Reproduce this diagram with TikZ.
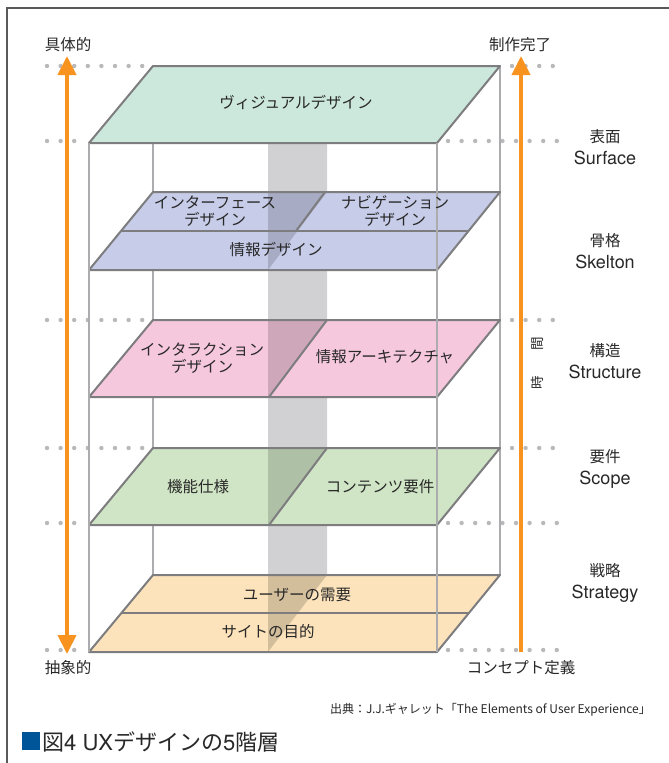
\documentclass[tikz,border=0pt]{standalone}
\usepackage{fontspec}
\setmainfont{Noto Sans CJK JP}
\newfontfamily\hvfam{TeX Gyre Heros}
\newcommand\latw[1]{{\hvfam\fontsize{18}{21}\selectfont #1}}
\usetikzlibrary{arrows.meta}
\definecolor{edgec}{RGB}{125,125,127}
\definecolor{boxc}{RGB}{172,172,175}
\definecolor{dotc}{RGB}{185,185,188}
\definecolor{colc}{RGB}{209,209,211}
\definecolor{arrc}{RGB}{247,147,30}
\definecolor{txtc}{RGB}{40,40,40}
\definecolor{framec}{RGB}{90,90,90}
\definecolor{visc}{RGB}{204,231,219}
\definecolor{skc}{RGB}{199,204,233}
\definecolor{stc}{RGB}{246,200,222}
\definecolor{scc}{RGB}{208,229,197}
\definecolor{sgc}{RGB}{252,227,187}
\definecolor{titlec}{RGB}{0,84,152}
\tikzset{
  dotline/.style={dotc, line width=4.4pt, line cap=round, dash pattern=on 0pt off 13.6pt},
  layeredge/.style={edgec, line width=2pt, line join=round},
  boxline/.style={boxc, line width=1.5pt},
  shade/.style={fill=black, fill opacity=0.16},
  lbl/.style={text=txtc, font=\fontsize{15.5}{17}\selectfont, align=center, inner sep=0pt},
  side/.style={text=txtc, font=\fontsize{15.5}{21.5}\selectfont, align=center, inner sep=0pt},
  orarrow/.style={arrc, line width=4pt, -{Triangle[length=19pt,width=18pt]}},
}
\begin{document}
\begin{tikzpicture}[x=1pt,y=-1pt]
\useasboundingbox (0,0) rectangle (669,763);
\fill[white] (0,0) rectangle (669,763);
\draw[framec, line width=1.2pt] (7,770) -- (7,8) -- (675,8);

% dotted level lines
\foreach \y in {66,320,448}{
  \draw[dotline] (47,\y) -- (148,\y);
  \draw[dotline] (512,\y) -- (560,\y);
}
\foreach \y in {141,523,650}{
  \draw[dotline] (47,\y) -- (80,\y);
  \draw[dotline] (448,\y) -- (560,\y);
}

% back box lines
\draw[boxline] (153,143) -- (153,575);
\draw[boxline] (500,66) -- (500,575);

% column
\fill[colc] (268,143) -- (327,143) -- (327,575) -- (268,652) -- cycle;

% Surface layer
\fill[visc] (89,143) -- (437,143) -- (500,66) -- (153,66) -- cycle;
\draw[layeredge] (89,143) -- (437,143) -- (500,66) -- (153,66) -- cycle;

% Skeleton layer
\fill[skc] (89,270) -- (437,270) -- (500,192) -- (153,192) -- cycle;
\fill[shade] (268,192) -- (327,192) -- (268,270) -- cycle;
\draw[layeredge] (89,270) -- (437,270) -- (500,192) -- (153,192) -- cycle;
\draw[layeredge] (121,231) -- (469,231);
\draw[layeredge] (325,192) -- (296,231);

% Structure layer
\fill[stc] (89,397) -- (437,397) -- (500,320) -- (153,320) -- cycle;
\fill[shade] (268,320) -- (327,320) -- (268,397) -- cycle;
\draw[layeredge] (89,397) -- (437,397) -- (500,320) -- (153,320) -- cycle;
\draw[layeredge] (327,320) -- (269,397);

% Scope layer
\fill[scc] (89,525) -- (437,525) -- (500,448) -- (153,448) -- cycle;
\fill[shade] (268,448) -- (327,448) -- (268,525) -- cycle;
\draw[layeredge] (89,525) -- (437,525) -- (500,448) -- (153,448) -- cycle;
\draw[layeredge] (327,448) -- (269,525);

% Strategy layer
\fill[sgc] (89,652) -- (437,652) -- (500,575) -- (153,575) -- cycle;
\fill[shade] (268,575) -- (327,575) -- (268,652) -- cycle;
\draw[layeredge] (89,652) -- (437,652) -- (500,575) -- (153,575) -- cycle;
\draw[layeredge] (121,613) -- (469,613);

% front box lines
\draw[boxline] (89,143) -- (89,652);
\draw[boxline] (437,143) -- (437,652);

% arrows
\coordinate (lt) at (67,56);
\coordinate (lb) at (67,654);
\coordinate (rt) at (521,56);
\coordinate (rb) at (521,652);
\draw[orarrow, {Triangle[length=19pt,width=18pt]}-{Triangle[length=19pt,width=18pt]}] (lb) -- (lt);
\draw[orarrow] (rb) -- (rt);

% layer labels
\node[lbl] (vis) at (296,102) {ヴィジュアルデザイン};
\node[lbl] (ifd) at (215,211) {インターフェース\\デザイン};
\node[lbl] (nvd) at (395,211) {ナビゲーション\\デザイン};
\node[lbl] (ifo) at (276,250) {情報デザイン};
\node[lbl] (itd) at (202,358) {インタラクション\\デザイン};
\node[lbl] (ia)  at (385,357) {情報アーキテクチャ};
\node[lbl] (fs)  at (198,487) {機能仕様};
\node[lbl] (cr)  at (380,487) {コンテンツ要件};
\node[lbl] (un)  at (297,595) {ユーザーの需要};
\node[lbl] (so)  at (268,632) {サイトの目的};

% axis labels
\node[lbl] (concrete) at (68,45) {具体的};
\node[lbl] (abstract) at (68,668) {抽象的};
\node[lbl] (done) at (520,45) {制作完了};
\node[lbl] (concept) at (521,668) {コンセプト定義};
\node[text=txtc, font=\fontsize{13.5}{13.5}\selectfont, rotate=90, inner sep=0pt] (time) at (537,363) {時\hspace{26pt}間};

% side labels
\node[side] (surf) at (605,147) {表面\\\latw{Surface}};
\node[side] (skel) at (605,251) {骨格\\\latw{Skelton}};
\node[side] (stru) at (605,361) {構造\\\latw{Structure}};
\node[side] (scop) at (605,469) {要件\\\latw{Scope}};
\node[side] (strat) at (605,583) {戦略\\\latw{Strategy}};

% source and title
\node[text=txtc, font=\fontsize{12}{12}\selectfont, anchor=east, inner sep=0pt] (src) at (651,710) {出典：J.J.ギャレット「The Elements of User Experience」};
\fill[titlec] (22,732) rectangle (40,750);
\node[text=txtc, font=\fontsize{22}{22}\selectfont, anchor=west, inner sep=0pt] (title) at (42,742) {図{\hvfam 4 UX}デザインの{\hvfam 5}階層};
\end{tikzpicture}
\end{document}
